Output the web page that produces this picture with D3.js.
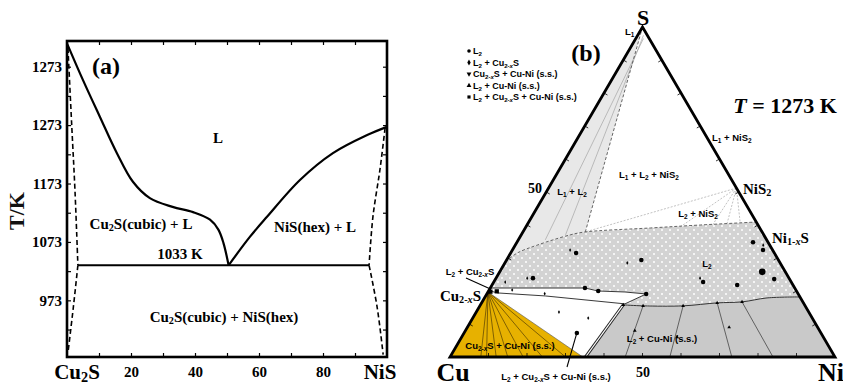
<!DOCTYPE html>
<html>
<head>
<meta charset="utf-8">
<script src="https://cdn.jsdelivr.net/npm/d3@7"></script>
<style>
  body { margin: 0; background: #fff; }
  svg { display: block; }
  text { white-space: pre; }
</style>
</head>
<body>
<svg id="chart" width="843" height="386"></svg>
<script>
// ---------------- (a) Cu2S – NiS pseudo-binary section ----------------
const compTicks = [20, 40, 60, 80];                       // mol% NiS
const compMinor = [10, 20, 30, 40, 50, 60, 70, 80, 90];
const tempTicks = [973, 1073, 1173, 1273, 1373];
const tempTickLabels = ["973", "1073", "1173", "1273", "1273"];
const tempMinor = [923, 973, 1023, 1073, 1123, 1173, 1223, 1273, 1323, 1373];
const eutecticT = 1033;
const eutecticSpan = [3.4, 94.4];
const liquidusCu2S = [[0, 1413], [5, 1350], [10.3, 1287], [15.6, 1225], [20.6, 1176], [25.9, 1148],
  [33, 1133], [39.4, 1124], [44.7, 1111], [47.3, 1094], [48.9, 1071], [50.5, 1033]];
const liquidusNiS = [[50.5, 1033], [57.2, 1082], [62.5, 1116], [72.8, 1179], [83.1, 1225],
  [93.8, 1256], [100, 1270]];
const solidusCu2S = [[0.3, 1405], [1.5, 1270], [2.5, 1160], [3.4, 1033]];
const solvusCu2S = [[3.4, 1033], [2.0, 962], [0.3, 883]];
const solidusNiS = [[99.4, 1268], [97.8, 1197], [95.6, 1116], [94.4, 1033]];
const solvusNiS = [[94.4, 1033], [96.9, 962], [98.8, 880]];

// ---------------- (b) Cu–Ni–S isothermal section, T = 1273 K ----------------
// compositions as [x(Ni), x(S)]; x(Cu) is the remainder
const cu2xS = [0, 0.197];
const niS2 = [0.488, 0.512];
const l1l2Corner = [0.162, 0.379];
const l1l2Region = [[0, 1], [0, 0.289], [0.017, 0.315], [0.057, 0.339], [0.127, 0.370], [0.162, 0.379]];
const l2TopBoundary = [[0, 0.289], [0.017, 0.315], [0.057, 0.339], [0.127, 0.370], [0.162, 0.379],
  [0.325, 0.391], [0.450, 0.400], [0.591, 0.409]];
const l2CuNiBoundary = [[0.371, 0.158], [0.424, 0.155], [0.528, 0.155], [0.612, 0.164],
  [0.675, 0.167], [0.734, 0.179], [0.818, 0.182]];
const tongueUpper = [[0.002, 0.209], [0.246, 0.209], [0.285, 0.200], [0.356, 0.197], [0.414, 0.191]];
const tongueLower = [[0.414, 0.191], [0.374, 0.161], [0.155, 0.185], [0.028, 0.194]];
const cu2xSCuNiEnd = [0.345, 0];
const threePhaseEdge = [[0.352, 0], [0.371, 0.158]];
const cu2xSTieEnds = [0.08, 0.095, 0.12, 0.15, 0.19, 0.24, 0.30];
const cuNiTies = [[[0.455, 0], [0.424, 0.155]], [[0.571, 0], [0.528, 0.155]],
  [[0.732, 0], [0.612, 0.164]], [[0.839, 0], [0.675, 0.167]]];
const niS2TieEnds = [[0.162, 0.379], [0.401, 0.394], [0.482, 0.403], [0.517, 0.406], [0.549, 0.409]];
const l1l2Ties = [[[0.02, 0.965], [0.07, 0.355]], [[0.015, 0.975], [0.115, 0.370]]];
const ptsL2 = [[0.170, 0.315], [0.350, 0.294], [0.096, 0.239], [0.613, 0.348], [0.651, 0.324],
  [0.724, 0.236], [0.637, 0.218], [0.544, 0.227], [0.246, 0.209], [0.285, 0.200], [0.414, 0.191],
  [0.293, 0.073]];
const ptsL2Big = [[0.682, 0.258]];
const ptsL2Cu2xS = [[0.030, 0.227], [0.081, 0.239], [0.150, 0.324], [0.318, 0.285], [0.530, 0.239],
  [0.644, 0.339], [0.060, 0.203], [0.150, 0.192], [0.215, 0.136], [0.300, 0.118]];
const ptsThreePhase = [[0.006, 0.198], [0.022, 0.199]];
const ptsL2CuNi = [[0.371, 0.158], [0.424, 0.155], [0.528, 0.155], [0.612, 0.164], [0.675, 0.167],
  [0.440, 0.08], [0.560, 0.06], [0.680, 0.09]];
const legendItems = ["L_{2}", "L_{2} + Cu_{2-*x*}S", "Cu_{2-*x*}S + Cu-Ni (s.s.)",
  "L_{2} + Cu-Ni (s.s.)", "L_{2} + Cu_{2-*x*}S + Cu-Ni (s.s.)"];

const SERIF = "'Liberation Serif', 'Times New Roman', serif";
const SANS = "'Liberation Sans', Arial, sans-serif";
const svg = d3.select("#chart");

// text with _{sub} and *italic* markup
function rich(sel, str, fs, shift) {
  const parts = str.split(/(_\{[^}]*\}|\*[^*]*\*)/).filter(s => s.length);
  let low = false;
  parts.forEach(p => {
    if (p.startsWith("_{")) {
      p.slice(2, -1).split(/(\*[^*]*\*)/).filter(s => s.length).forEach((q, i) => {
        const t = sel.append("tspan").attr("font-size", fs * 0.68);
        if (i === 0 && !low) t.attr("dy", fs * shift);
        if (q.startsWith("*")) t.attr("font-style", "italic").text(q.slice(1, -1));
        else t.text(q);
      });
      low = true;
    } else {
      const t = sel.append("tspan");
      if (low) { t.attr("dy", -fs * shift); low = false; }
      if (p.startsWith("*")) t.attr("font-style", "italic").text(p.slice(1, -1));
      else t.text(p);
    }
  });
  return sel;
}
function label(g, str, x, y, fs, family, anchor) {
  const t = g.append("text").attr("x", x).attr("y", y)
    .attr("font-family", family).attr("font-weight", "bold")
    .attr("font-size", fs).attr("text-anchor", anchor || "middle").attr("fill", "#000");
  return rich(t, str, fs, family === SERIF ? 0.16 : 0.24);
}

// ================= panel (a) =================
const gA = svg.append("g");
const xA = d3.scaleLinear().domain([0, 100]).range([67, 387]);
const yA = d3.scaleLinear().domain([876, 1417]).range([357, 41]);

function cleanAxis(g) { g.select(".domain").remove(); g.selectAll("line").attr("stroke", "#000").attr("stroke-width", 1.2); }

gA.append("g").attr("transform", `translate(${xA(0)},0)`)
  .call(d3.axisLeft(yA).tickValues(tempMinor).tickSize(-4).tickFormat("")).call(cleanAxis);
gA.append("g").attr("transform", `translate(${xA(100)},0)`)
  .call(d3.axisRight(yA).tickValues(tempMinor).tickSize(-4).tickFormat("")).call(cleanAxis);
gA.append("g").attr("transform", `translate(0,${yA.range()[0]})`)
  .call(d3.axisBottom(xA).tickValues(compMinor).tickSize(-4).tickFormat("")).call(cleanAxis);
gA.append("g").attr("transform", `translate(0,${yA.range()[1]})`)
  .call(d3.axisTop(xA).tickValues(compMinor).tickSize(-4).tickFormat("")).call(cleanAxis);

const yLab = gA.append("g").attr("transform", `translate(${xA(0)},0)`)
  .call(d3.axisLeft(yA).tickValues(tempTicks).tickSize(0).tickPadding(5)
    .tickFormat((d, i) => tempTickLabels[i]));
yLab.select(".domain").remove();
yLab.selectAll("text").attr("font-family", SERIF).attr("font-weight", "bold").attr("font-size", 15).attr("fill", "#000");

const xLab = gA.append("g").attr("transform", `translate(0,${yA.range()[0]})`)
  .call(d3.axisBottom(xA).tickValues(compTicks).tickSize(0).tickPadding(9));
xLab.select(".domain").remove();
xLab.selectAll("text").attr("font-family", SERIF).attr("font-weight", "bold").attr("font-size", 15).attr("fill", "#000");

const lineA = d3.line().x(d => xA(d[0])).y(d => yA(d[1]));
gA.append("path").attr("d", lineA.curve(d3.curveCatmullRom)(liquidusCu2S))
  .attr("fill", "none").attr("stroke", "#000").attr("stroke-width", 2.2);
gA.append("path").attr("d", lineA.curve(d3.curveCatmullRom)(liquidusNiS))
  .attr("fill", "none").attr("stroke", "#000").attr("stroke-width", 2.2);
gA.append("line").attr("x1", xA(eutecticSpan[0])).attr("x2", xA(eutecticSpan[1]))
  .attr("y1", yA(eutecticT)).attr("y2", yA(eutecticT)).attr("stroke", "#000").attr("stroke-width", 2);
[solidusCu2S, solvusCu2S, solidusNiS, solvusNiS].forEach(d => {
  gA.append("path").attr("d", lineA.curve(d3.curveCatmullRom)(d)).attr("fill", "none")
    .attr("stroke", "#000").attr("stroke-width", 1.6).attr("stroke-dasharray", "5,3");
});
gA.append("rect").attr("x", xA(0)).attr("y", yA.range()[1])
  .attr("width", xA(100) - xA(0)).attr("height", yA.range()[0] - yA.range()[1])
  .attr("fill", "none").attr("stroke", "#000").attr("stroke-width", 2.6);

label(gA, "(a)", 106, 74, 24, SERIF);
label(gA, "L", 218, 143, 15, SERIF);
label(gA, "Cu_{2}S(cubic) + L", 141, 229, 15, SERIF);
label(gA, "NiS(hex) + L", 315, 232, 15, SERIF);
label(gA, "1033 K", 180, 259, 15, SERIF);
label(gA, "Cu_{2}S(cubic) + NiS(hex)", 224, 322, 15, SERIF);
label(gA, "Cu_{2}S", 77, 379, 21, SERIF);
label(gA, "NiS", 380, 379, 21, SERIF);
gA.append("text").attr("transform", "translate(24,211) rotate(-90)")
  .attr("text-anchor", "middle").attr("font-family", SERIF).attr("font-weight", "bold")
  .attr("font-size", 22).attr("fill", "#111").text("T/K");

// ================= panel (b) =================
const gB = svg.append("g");
const tx = d3.scaleLinear().domain([0, 1]).range([450, 835]);
const ty = d3.scaleLinear().domain([0, 1]).range([357, 27]);
const P = d => [tx(d[0] + d[1] / 2), ty(d[1])];
const lineB = d3.line().x(d => P(d)[0]).y(d => P(d)[1]);
const polyB = pts => lineB.curve(d3.curveLinear)(pts) + "Z";

const defs = svg.append("defs");
const pat = defs.append("pattern").attr("id", "dots").attr("patternUnits", "userSpaceOnUse")
  .attr("width", 8).attr("height", 8);
pat.append("rect").attr("width", 8).attr("height", 8).attr("fill", "#d3d3d3");
pat.append("circle").attr("cx", 2).attr("cy", 2).attr("r", 1).attr("fill", "#fff");
pat.append("circle").attr("cx", 6).attr("cy", 6).attr("r", 1).attr("fill", "#fff");

// phase fields
gB.append("path").attr("d", polyB(l1l2Region)).attr("fill", "#e8e8e8");
const l2Region = l2TopBoundary
  .concat(l2CuNiBoundary.slice().reverse())
  .concat([tongueUpper[tongueUpper.length - 1]])
  .concat(tongueUpper.slice(0, -1).reverse())
  .concat([[0, tongueUpper[0][1]]]);
gB.append("path").attr("d", polyB(l2Region)).attr("fill", "url(#dots)");
const cuNiRegion = [threePhaseEdge[0]].concat(l2CuNiBoundary).concat([[1, 0]]);
gB.append("path").attr("d", polyB(cuNiRegion)).attr("fill", "#c9c9c9");
gB.append("path").attr("d", polyB([[0, 0], cu2xS, cu2xSCuNiEnd])).attr("fill", "#e7b100");
gB.append("path").attr("d", polyB(tongueUpper.concat(tongueLower.slice(1)).concat([[0.004, 0.2]])))
  .attr("fill", "#fff").attr("stroke", "#222").attr("stroke-width", 0.9);

// tie lines
const thin = (a, b, col, w, dash) => gB.append("line")
  .attr("x1", P(a)[0]).attr("y1", P(a)[1]).attr("x2", P(b)[0]).attr("y2", P(b)[1])
  .attr("stroke", col).attr("stroke-width", w).attr("stroke-dasharray", dash || null);
cu2xSTieEnds.forEach(n => thin(cu2xS, [n, 0], "#3a2a00", 0.6));
cuNiTies.forEach(([a, b]) => thin(a, b, "#333", 0.7));
niS2TieEnds.forEach(e => thin(niS2, e, "#999", 0.6, "2,1.5"));
l1l2Ties.forEach(([a, b]) => thin(a, b, "#999", 0.6));

// boundaries
gB.append("path").attr("d", lineB.curve(d3.curveCatmullRom)(l2TopBoundary)).attr("fill", "none")
  .attr("stroke", "#555").attr("stroke-width", 0.9).attr("stroke-dasharray", "3,2");
thin([0, 1], l1l2Corner, "#555", 0.9, "3,2");
gB.append("path").attr("d", lineB.curve(d3.curveCatmullRom)(l2CuNiBoundary)).attr("fill", "none")
  .attr("stroke", "#333").attr("stroke-width", 1);
thin(cu2xS, cu2xSCuNiEnd, "#555", 0.6);
thin(threePhaseEdge[0], threePhaseEdge[1], "#222", 3);
thin(threePhaseEdge[0], threePhaseEdge[1], "#fff", 1.2);

// data points
const sym = (type, size) => d3.symbol().type(type).size(size)();
const drawPts = (pts, type, size) => gB.selectAll(null).data(pts).join("path")
  .attr("d", sym(type, size)).attr("transform", d => `translate(${P(d)[0]},${P(d)[1]})`).attr("fill", "#000");
drawPts(ptsL2, d3.symbolCircle, 16);
drawPts(ptsL2Big, d3.symbolCircle, 34);
drawPts(ptsL2Cu2xS, d3.symbolDiamond, 4);
drawPts(ptsThreePhase, d3.symbolSquare, 18);
drawPts(ptsL2CuNi, d3.symbolTriangle, 6);

// triangle frame and ticks
gB.append("path").attr("d", polyB([[0, 0], [1, 0], [0, 1]])).attr("fill", "none")
  .attr("stroke", "#000").attr("stroke-width", 2.8).attr("stroke-linejoin", "miter");
const tickFr = d3.range(1, 10).map(i => i / 10);
const edges = [[[0, 0], [1, 0]], [[1, 0], [0, 1]], [[0, 1], [0, 0]]];
const cen = P([1 / 3, 1 / 3]);
edges.forEach(([a, b]) => {
  tickFr.forEach(f => {
    const q = P([a[0] + (b[0] - a[0]) * f, a[1] + (b[1] - a[1]) * f]);
    const pa = P(a), pb = P(b);
    let nx = -(pb[1] - pa[1]), ny = pb[0] - pa[0];
    const L = Math.hypot(nx, ny); nx /= L; ny /= L;
    if ((cen[0] - q[0]) * nx + (cen[1] - q[1]) * ny < 0) { nx = -nx; ny = -ny; }
    gB.append("line").attr("x1", q[0]).attr("y1", q[1]).attr("x2", q[0] + nx * 4).attr("y2", q[1] + ny * 4)
      .attr("stroke", "#000").attr("stroke-width", 0.8);
  });
});

// pointers
const pCu = P([0.004, 0.205]);
gB.append("line").attr("x1", 466).attr("y1", 278).attr("x2", pCu[0]).attr("y2", pCu[1])
  .attr("stroke", "#000").attr("stroke-width", 1.1);
const pTri = P(ptsL2[ptsL2.length - 1]);
gB.append("line").attr("x1", 567).attr("y1", 367).attr("x2", pTri[0]).attr("y2", pTri[1])
  .attr("stroke", "#000").attr("stroke-width", 1.1);

// vertex and axis labels
label(gB, "S", 643, 25, 22, SERIF);
label(gB, "Cu", 453, 381, 26, SERIF);
label(gB, "Ni", 831, 381, 26, SERIF);
label(gB, "Cu_{2-*x*}S", 481, 301, 15, SERIF, "end");
label(gB, "NiS_{2}", 743, 194, 15, SERIF, "start");
label(gB, "Ni_{1-*x*}S", 772, 243, 15, SERIF, "start");
label(gB, "50", 542, 193, 14, SERIF, "end");
label(gB, "50", 643, 377, 14, SERIF);
label(gB, "(b)", 586, 61, 24, SERIF);
label(gB, "*T* = 1273 K", 785, 113, 22, SERIF);

// phase-field labels
const fs = 9.5;
label(gB, "L_{1}", 625, 35, fs, SANS, "start");
label(gB, "L_{1} + L_{2}", 572, 195, fs, SANS);
label(gB, "L_{1} + L_{2} + NiS_{2}", 649, 178, fs, SANS);
label(gB, "L_{1} + NiS_{2}", 712, 141, fs, SANS, "start");
label(gB, "L_{2} + NiS_{2}", 698, 217, fs, SANS);
label(gB, "L_{2}", 707, 267, fs, SANS);
label(gB, "L_{2} + Cu-Ni (s.s.)", 662, 342, fs, SANS);
label(gB, "Cu_{2-*x*}S + Cu-Ni (s.s.)", 510, 349, fs, SANS);
label(gB, "L_{2} + Cu_{2-*x*}S + Cu-Ni (s.s.)", 556, 380, fs, SANS);
label(gB, "L_{2} + Cu_{2-*x*}S", 470, 275, fs, SANS);

// legend
const legTypes = [d3.symbolCircle, d3.symbolDiamond, d3.symbolTriangle, d3.symbolTriangle, d3.symbolSquare];
const legY = d3.scalePoint().domain(d3.range(legendItems.length)).range([54, 100]);
legendItems.forEach((t, i) => {
  gB.append("path").attr("d", sym(legTypes[i], 10))
    .attr("transform", `translate(469,${legY(i) - 3})${i === 2 ? " rotate(180)" : ""}`).attr("fill", "#000");
  label(gB, t, 473, legY(i), 9, SANS, "start");
});
</script>
</body>
</html>
